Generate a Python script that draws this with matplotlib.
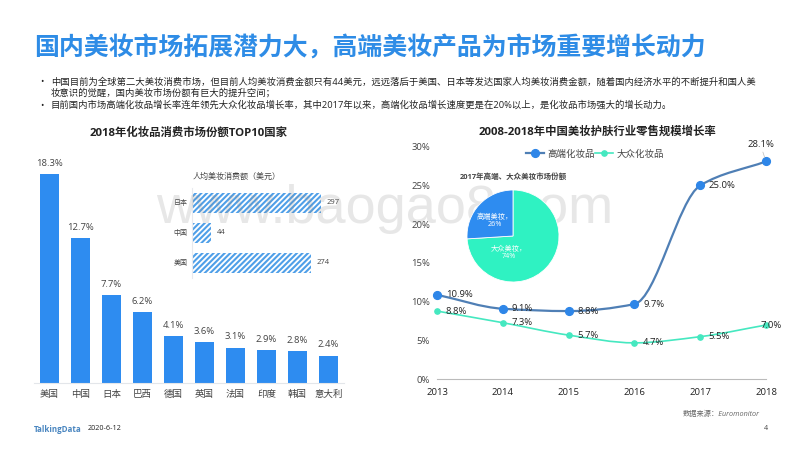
import numpy as np
import matplotlib
matplotlib.use("Agg")
import matplotlib.pyplot as plt
from matplotlib.lines import Line2D
from matplotlib.patches import PathPatch
from matplotlib.path import Path

plt.rcParams['font.family'] = ['Open Sans', 'Noto Sans CJK SC', 'DejaVu Sans']
plt.rcParams['hatch.linewidth'] = 1.5

W, H = 800, 450

# data
countries = ['美国', '中国', '日本', '巴西', '德国', '英国', '法国', '印度', '韩国', '意大利']
share = [18.3, 12.7, 7.7, 6.2, 4.1, 3.6, 3.1, 2.9, 2.8, 2.4]
spend_countries = ['日本', '中国', '美国']
spend = [297, 44, 274]
years = [2013, 2014, 2015, 2016, 2017, 2018]
high_end = [10.9, 9.1, 8.8, 9.7, 25.0, 28.1]
mass = [8.8, 7.3, 5.7, 4.7, 5.5, 7.0]
pie_labels = ['大众美妆', '高端美妆']
pie_values = [74, 26]
y_ticks = [0, 5, 10, 15, 20, 25, 30]

BLUE = '#2E8CF0'
TEAL = '#2FF2C2'
LINE_BLUE = '#4F7FB5'
LINE_TEAL = '#45E8C0'
DARK = '#222222'
GREY = '#444444'


def px_axes(fig, left, top, right, bottom, **kwargs):
    # axes placed with pixel coordinates of the 800x450 slide
    return fig.add_axes([left / W, 1 - bottom / H, (right - left) / W, (bottom - top) / H], **kwargs)


def slide_text(fig, x, y, s, **kwargs):
    kwargs.setdefault('va', 'center')
    fig.text(x / W, 1 - y / H, s, **kwargs)


def smooth_path(xs, ys):
    # monotone cubic through the points, written as bezier segments
    xs = np.asarray(xs, dtype=float)
    ys = np.asarray(ys, dtype=float)
    d = np.diff(ys) / np.diff(xs)
    m = np.zeros(len(xs))
    m[0], m[-1] = d[0], d[-1]
    for i in range(1, len(xs) - 1):
        if d[i - 1] * d[i] > 0:
            m[i] = 2 * d[i - 1] * d[i] / (d[i - 1] + d[i])
    verts = [(xs[0], ys[0])]
    codes = [Path.MOVETO]
    for i in range(len(xs) - 1):
        h = xs[i + 1] - xs[i]
        verts += [(xs[i] + h / 3, ys[i] + m[i] * h / 3),
                  (xs[i + 1] - h / 3, ys[i + 1] - m[i + 1] * h / 3),
                  (xs[i + 1], ys[i + 1])]
        codes += [Path.CURVE4] * 3
    return Path(verts, codes)


fig = plt.figure(figsize=(8, 4.5), dpi=100, facecolor='white')

# header
slide_text(fig, 34.5, 49, '国内美妆市场拓展潜力大，高端美妆产品为市场重要增长动力',
           fontsize=17.95, fontweight='bold', color='#2E8CE6')
body = [
    (82, '中国目前为全球第二大美妆消费市场，但目前人均美妆消费金额只有44美元，远远落后于美国、日本等发达国家人均美妆消费金额，随着国内经济水平的不断提升和国人美'),
    (93, '妆意识的觉醒，国内美妆市场份额有巨大的提升空间；'),
    (105, '目前国内市场高端化妆品增长率连年领先大众化妆品增长率，其中2017年以来，高端化妆品增长速度更是在20%以上，是化妆品市场强大的增长动力。'),
]
for y, line in body:
    slide_text(fig, 50.7, y, line, fontsize=6.72, color=DARK)
for y in (82, 105):
    slide_text(fig, 41.5, y, '•', fontsize=6.5, color=DARK, ha='center')

# left bars
ax = px_axes(fig, 34, 150, 344, 383)
x = np.arange(len(countries))
ax.bar(x, share, width=0.63, color=BLUE)
ax.set_xlim(-0.5, 9.5)
ax.set_ylim(0, 233 / 11.42)
for xi, v in zip(x, share):
    ax.annotate(f'{v}%', (xi, v), xytext=(0, 4.5), textcoords='offset points',
                ha='center', va='bottom', fontsize=6.8, color=GREY)
ax.set_xticks(x, countries, fontsize=6.8, color=GREY)
ax.set_yticks([])
ax.tick_params(axis='x', length=0, pad=5)
for s in ('top', 'left', 'right'):
    ax.spines[s].set_visible(False)
ax.spines['bottom'].set_color('#E3E6EA')
ax.patch.set_alpha(0)
slide_text(fig, 90, 133, '2018年化妆品消费市场份额TOP10国家', fontsize=8.2,
           fontweight='bold', color=DARK)

# inset hatched bars
inset = px_axes(fig, 192, 188, 345, 278)
yy = np.arange(len(spend))
inset.barh(yy, spend, height=0.66, facecolor='white', edgecolor='#4F9FE8', hatch='//////', linewidth=0)
inset.set_ylim(2.5, -0.5)
inset.set_xlim(0, 153 * 297 / 128.7)
for yi, v in zip(yy, spend):
    inset.annotate(str(v), (v, yi), xytext=(4, 0), textcoords='offset points',
                   va='center', fontsize=5.5, color=GREY)
inset.set_yticks(yy, spend_countries, fontsize=5, color=GREY)
inset.set_xticks([])
inset.tick_params(axis='y', length=0, pad=3)
for s in ('top', 'bottom', 'right'):
    inset.spines[s].set_visible(False)
inset.spines['left'].set_color('#E8EAEE')
inset.patch.set_alpha(0)
slide_text(fig, 193, 177, '人均美妆消费额（美元）', fontsize=5.8, color=GREY)

# right lines
lx = px_axes(fig, 437, 146.7, 766, 379.3)
lx.set_xlim(2013, 2018)
lx.set_ylim(0, 30)
lx.add_patch(PathPatch(smooth_path(years, high_end), fill=False, edgecolor=LINE_BLUE, linewidth=1.6, clip_on=False))
lx.add_patch(PathPatch(smooth_path(years, mass), fill=False, edgecolor=LINE_TEAL, linewidth=1.2, clip_on=False))
lx.plot(years, high_end, 'o', color='#2E86E8', markersize=5.6, clip_on=False, zorder=3)
lx.plot(years, mass, 'o', color=LINE_TEAL, markersize=3.8, clip_on=False, zorder=3)
for series in (high_end, mass):
    for yr, v in zip(years[:-1], series[:-1]):
        lx.annotate(f'{v:.1f}%', (yr, v), xytext=(6.2, 0), textcoords='offset points',
                    va='center', fontsize=6.8, color=DARK)
lx.annotate(f'{high_end[-1]:.1f}%', (years[-1], high_end[-1]), xytext=(-4, 12),
            textcoords='offset points', ha='center', va='center', fontsize=6.8, color=DARK,
            arrowprops=dict(arrowstyle='-', color='#BBBBBB', linewidth=0.5, shrinkA=0, shrinkB=3))
lx.annotate(f'{mass[-1]:.1f}%', (years[-1], mass[-1]), xytext=(-4.3, 0), textcoords='offset points',
            va='center', fontsize=6.8, color=DARK)
lx.set_xticks(years, [str(y) for y in years], fontsize=6.8, color=DARK)
lx.set_yticks(y_ticks, [f'{t}%' for t in y_ticks], fontsize=6.8, color=GREY)
lx.tick_params(length=0)
lx.tick_params(axis='x', pad=6)
lx.tick_params(axis='y', pad=5)
for s in ('top', 'left', 'right'):
    lx.spines[s].set_visible(False)
lx.spines['bottom'].set_color('#BBBBBB')
lx.patch.set_alpha(0)
handles = [Line2D([], [], color=LINE_BLUE, lw=1.6, marker='o', markersize=5.6, markerfacecolor='#2E86E8', markeredgecolor='#2E86E8'),
           Line2D([], [], color=LINE_TEAL, lw=1.2, marker='o', markersize=3.8)]
fig.legend(handles, ['高端化妆品', '大众化妆品'], loc='center', bbox_to_anchor=(595 / W, 1 - 154 / H),
           ncol=2, frameon=False, fontsize=6.8, labelcolor=GREY, handlelength=1.9,
           columnspacing=0.1, handletextpad=0.3)
slide_text(fig, 597, 132, '2008-2018年中国美妆护肤行业零售规模增长率', fontsize=8.2,
           fontweight='bold', color=DARK, ha='center')

# pie
pie_ax = px_axes(fig, 467, 190, 559, 282)
wedges, _ = pie_ax.pie(pie_values, colors=[TEAL, BLUE], startangle=90, counterclock=False, radius=1,
                       wedgeprops=dict(edgecolor='white', linewidth=0.6))
pie_ax.set_xlim(-1, 1)
pie_ax.set_ylim(-1, 1)
pie_ax.set_zorder(11)
for name, v, (tx, ty) in zip(pie_labels, pie_values, [(-0.09, -0.37), (-0.39, 0.33)]):
    pie_ax.text(tx, ty, f'{name}，\n{v}%', ha='center', va='center',
                fontsize=5.2, color='white', linespacing=1.1)
slide_text(fig, 513, 177, '2017年高端、大众美妆市场份额', fontsize=5.4, fontweight='bold',
           color=GREY, ha='center')

# footer
slide_text(fig, 683, 414, '数据来源：Euromonitor', fontsize=5.2, style='italic', color='#666666')
slide_text(fig, 34, 429, 'TalkingData', fontsize=5.8, fontweight='bold', color='#4A86C0')
slide_text(fig, 88, 429, '2020-6-12', fontsize=5.2, color=DARK)
slide_text(fig, 764, 428, '4', fontsize=5.2, color=GREY)

# watermark
slide_text(fig, 385, 209, 'www.baogao8.com', family=['Liberation Sans'], fontsize=39,
           color='#888888', alpha=0.2, ha='center', zorder=10)

fig.savefig('out.png', dpi=100)
